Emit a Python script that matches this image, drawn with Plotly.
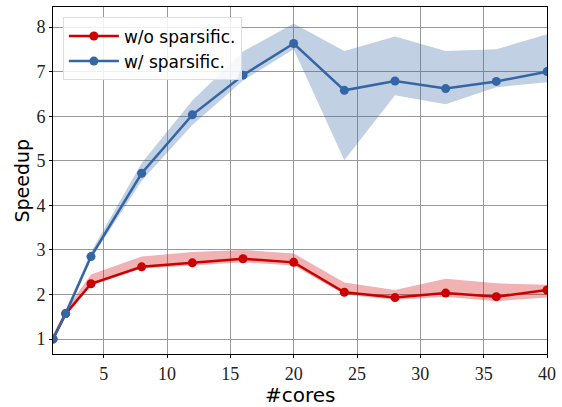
import plotly.graph_objects as go

cores = [1, 2, 4, 8, 12, 16, 20, 24, 28, 32, 36, 40]
wo_mean = [1.0, 1.57, 2.24, 2.62, 2.71, 2.80, 2.72, 2.05, 1.93, 2.03, 1.95, 2.10]
wo_upper = [1.10, 1.65, 2.45, 2.85, 2.95, 3.00, 2.92, 2.27, 2.10, 2.35, 2.25, 2.22]
wo_lower = [0.95, 1.50, 2.20, 2.58, 2.65, 2.72, 2.65, 2.00, 1.88, 1.95, 1.85, 1.93]
w_mean = [1.0, 1.57, 2.85, 4.72, 6.03, 6.92, 7.63, 6.58, 6.79, 6.62, 6.78, 7.00]
w_upper = [1.05, 1.65, 2.95, 4.95, 6.35, 7.45, 8.08, 7.46, 7.79, 7.46, 7.50, 7.84]
w_lower = [0.97, 1.52, 2.80, 4.55, 5.80, 6.80, 7.50, 5.01, 6.47, 6.27, 6.65, 6.76]
x_title = "#cores"
y_title = "Speedup"

RED = "#cc0000"
BLUE = "#3465a4"

fig = go.Figure()

def band(x, lo, hi, color):
    fig.add_trace(go.Scatter(x=x, y=hi, mode="lines", line=dict(width=0), showlegend=False, hoverinfo="skip"))
    fig.add_trace(go.Scatter(x=x, y=lo, mode="lines", line=dict(width=0), fill="tonexty",
                             fillcolor=color, showlegend=False, hoverinfo="skip"))

band(cores, w_lower, w_upper, "rgba(52,101,164,0.30)")
band(cores, wo_lower, wo_upper, "rgba(204,0,0,0.30)")

fig.add_trace(go.Scatter(x=cores, y=wo_mean, mode="lines+markers", name="w/o sparsific.",
                         line=dict(color=RED, width=2.5), marker=dict(size=9, color=RED)))
fig.add_trace(go.Scatter(x=cores, y=w_mean, mode="lines+markers", name="w/ sparsific.",
                         line=dict(color=BLUE, width=2.5), marker=dict(size=9, color=BLUE)))

axis_common = dict(showgrid=True, gridcolor="#999999", gridwidth=1.3, showline=True,
                   linecolor="black", linewidth=1, mirror=True, zeroline=False,
                   ticks="outside", ticklen=3, tickcolor="black", automargin=False,
                   tickfont=dict(family="Liberation Serif, Times New Roman, serif", size=18, color="#222"))

fig.update_layout(
    width=562, height=407,
    margin=dict(l=53, r=15, t=7, b=53),
    plot_bgcolor="white", paper_bgcolor="white",
    xaxis=dict(range=[1, 40], tickvals=[5, 10, 15, 20, 25, 30, 35, 40], **axis_common),
    yaxis=dict(range=[0.664, 8.45], tickvals=[1, 2, 3, 4, 5, 6, 7, 8], **axis_common),
    legend=dict(x=0.02, y=0.97, xanchor="left", yanchor="top", traceorder="normal",
                bgcolor="rgba(255,255,255,0.85)", bordercolor="#dddddd", borderwidth=1,
                font=dict(family="DejaVu Sans", size=17, color="black"),
                itemwidth=50),
    showlegend=True,
    annotations=[
        dict(text=x_title, xref="paper", yref="paper", x=0.5, y=0, yshift=-41,
             xanchor="center", yanchor="middle", showarrow=False,
             font=dict(family="DejaVu Sans", size=20, color="black")),
        dict(text=y_title, xref="paper", yref="paper", x=0, y=0.5, xshift=-32,
             xanchor="center", yanchor="middle", showarrow=False, textangle=-90,
             font=dict(family="DejaVu Sans", size=19, color="black")),
    ],
)

fig.write_html("out.html", config={"displayModeBar": False},
               post_script="document.body.style.margin='0';document.body.style.padding='0';")
